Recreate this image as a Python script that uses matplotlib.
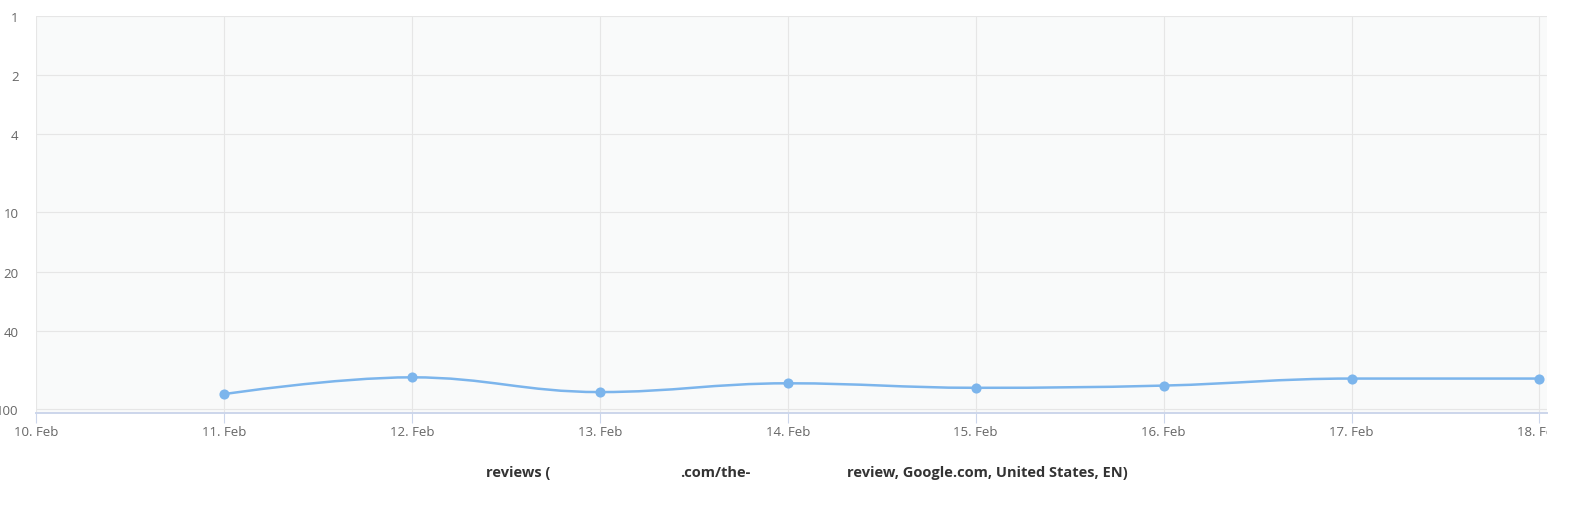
import matplotlib
matplotlib.use("Agg")
import matplotlib.pyplot as plt
from matplotlib.path import Path
from matplotlib.patches import PathPatch
from matplotlib.transforms import Bbox, TransformedBbox
import numpy as np

# axis categories and tick values
day_labels = ["10. Feb", "11. Feb", "12. Feb", "13. Feb", "14. Feb",
              "15. Feb", "16. Feb", "17. Feb", "18. Feb"]
rank_ticks = [1, 2, 4, 10, 20, 40, 100]

# ranking series (one point per day, 11. Feb .. 18. Feb)
series_days = ["11. Feb", "12. Feb", "13. Feb", "14. Feb",
               "15. Feb", "16. Feb", "17. Feb", "18. Feb"]
series_ranks = [84, 69, 82, 74, 78, 76, 70, 70]

legend_parts = ["reviews (", ".com/the-", "review, Google.com, United States, EN)"]

LINE = "#7cb5ec"
GRID = "#e6e6e6"
AXIS = "#ccd6eb"
LABEL = "#666666"


def spline_path(xs, ys):
    # highcharts-style spline, computed in (x, log10 y) space
    ly = np.log10(ys)
    n = len(xs)
    left = [None] * n
    right = [None] * n
    sm, den = 1.5, 2.5
    for i in range(1, n - 1):
        x, y = xs[i], ly[i]
        lx0, ly0 = xs[i - 1], ly[i - 1]
        nx, ny = xs[i + 1], ly[i + 1]
        lcx = (sm * x + lx0) / den
        lcy = (sm * y + ly0) / den
        rcx = (sm * x + nx) / den
        rcy = (sm * y + ny) / den
        if rcx != lcx:
            corr = ((rcy - lcy) * (rcx - x)) / (rcx - lcx) + y - rcy
            lcy += corr
            rcy += corr
        if lcy > ly0 and lcy > y:
            lcy = max(ly0, y)
            rcy = 2 * y - lcy
        elif lcy < ly0 and lcy < y:
            lcy = min(ly0, y)
            rcy = 2 * y - lcy
        if rcy > ny and rcy > y:
            rcy = max(ny, y)
            lcy = 2 * y - rcy
        elif rcy < ny and rcy < y:
            rcy = min(ny, y)
            lcy = 2 * y - rcy
        left[i] = (lcx, lcy)
        right[i] = (rcx, rcy)
    verts = [(xs[0], ly[0])]
    codes = [Path.MOVETO]
    for i in range(1, n):
        c1 = right[i - 1] if right[i - 1] else (xs[i - 1], ly[i - 1])
        c2 = left[i] if left[i] else (xs[i], ly[i])
        verts += [c1, c2, (xs[i], ly[i])]
        codes += [Path.CURVE4] * 3
    verts = [(vx, 10 ** vy) for vx, vy in verts]
    return Path(verts, codes)


W, H = 1592, 510
fig = plt.figure(figsize=(W / 100, H / 100), dpi=100, facecolor="white")
plt.rcParams["font.family"] = ["Open Sans", "DejaVu Sans"]

x0, x1, y0, y1 = 36, 1547, 17, 414
ax = fig.add_axes([x0 / W, 1 - y1 / H, (x1 - x0) / W, (y1 - y0) / H])
ax.set_facecolor("#f9fafa")

xs = [day_labels.index(d) for d in series_days]
ax.set_yscale("log")
ax.set_xlim(0, 8.04)
ax.set_ylim(104.8, 1)

ax.add_patch(PathPatch(spline_path(xs, series_ranks), facecolor="none",
                       edgecolor=LINE, lw=1.8, zorder=3))
ax.plot(xs, series_ranks, linestyle="none", marker="o", markersize=7.3,
        color=LINE, markeredgewidth=0, zorder=4)

ax.set_xticks(range(len(day_labels)))
ax.set_xticklabels(day_labels)
ax.set_yticks(rank_ticks)
ax.set_yticklabels([str(t) for t in rank_ticks])
ax.yaxis.set_minor_locator(matplotlib.ticker.NullLocator())

ax.grid(True, color=GRID, lw=0.8, zorder=0)
ax.set_axisbelow(True)
for s in ["top", "right", "left"]:
    ax.spines[s].set_visible(False)
ax.spines["bottom"].set_color(AXIS)
ax.spines["bottom"].set_linewidth(1.4)

ax.tick_params(axis="x", length=7, color=AXIS, width=0.8, pad=1.5,
               labelsize=9.5, labelcolor=LABEL)
ax.tick_params(axis="y", length=0, pad=12.5, labelsize=9.5, labelcolor=LABEL)

clip = TransformedBbox(Bbox([[0, 0], [x1 / W, 1]]), fig.transFigure)
for t in ax.get_xticklabels():
    t.set_clip_on(True)
    t.set_clip_box(clip)

# legend (partially redacted in the source)
ly = 1 - 473 / H
fig.text(486 / W, ly, legend_parts[0], ha="left", va="center",
         fontsize=10.5, fontweight="bold", color="#333333")
fig.text(680 / W, ly, legend_parts[1], ha="left", va="center",
         fontsize=10.5, fontweight="bold", color="#333333")
fig.text(1128 / W, ly, legend_parts[2], ha="right", va="center",
         fontsize=10.5, fontweight="bold", color="#333333")

fig.savefig("out.png", dpi=100, facecolor="white")
